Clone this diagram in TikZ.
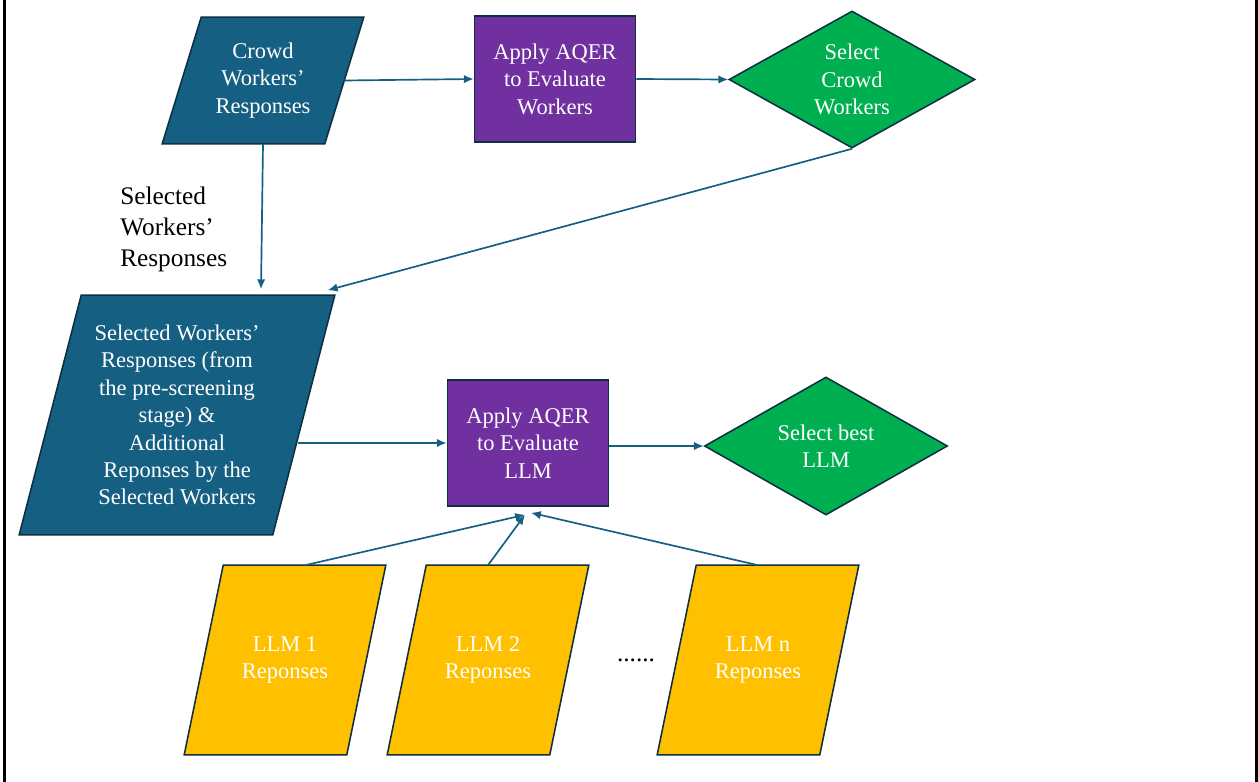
\documentclass[tikz,border=0pt]{standalone}
\usepackage{fontspec}
\setmainfont{Liberation Serif}
\usepackage{tikz}
\usetikzlibrary{arrows.meta}
\usetikzlibrary{shapes.geometric, positioning, calc, backgrounds}
\usepackage{xcolor}

\definecolor{crowdblue}{HTML}{156082}
\definecolor{aqerpurple}{HTML}{7030A0}
\definecolor{pickgreen}{HTML}{00B050}
\definecolor{llmgold}{HTML}{FFC000}
\definecolor{shapeedge}{HTML}{0C3041}

\tikzset{
  shapebox/.style={draw=shapeedge, line width=1.1pt, text=white, align=center,
    inner sep=0pt, font=\fontsize{16}{19.5}\selectfont},
  slanted/.style={shapebox, draw=none, rectangle},
  aqerbox/.style={shapebox, rectangle, fill=aqerpurple, minimum width=4.025cm, minimum height=3.15cm},
  pickbox/.style={shapebox, diamond, aspect=1.8, fill=pickgreen},
  flow/.style={draw=crowdblue, line width=1.2pt, -{Latex[length=7pt,width=6pt]}},
}

% parallelogram round a node: #1 node, #2 horizontal shift of the top edge, #3 fill
\newcommand{\slantshape}[3]{%
  \filldraw[fill=#3, draw=shapeedge, line width=1.1pt]
    ($(#1.south west)+(-#2/2,0)$) -- ($(#1.south east)+(-#2/2,0)$) --
    ($(#1.north east)+(#2/2,0)$) -- ($(#1.north west)+(#2/2,0)$) -- cycle;}

\begin{document}
\begin{tikzpicture}[x=0.025cm, y=-0.025cm]
      \useasboundingbox (0,0) rectangle (1258,782);
      \draw[line width=2pt] (4.5,0) -- (4.5,782);
      \draw[line width=1.6pt] (1256.5,0) -- (1256.5,782);

      \node[slanted, minimum width=4.025cm, minimum height=3.125cm] (crowd) at (263,80.5) {Crowd\\Workers'\\Responses};
      \node[aqerbox] (aqer1) at (555,79) {Apply AQER\\to Evaluate\\Workers};
      \node[pickbox, minimum width=6.15cm, minimum height=3.425cm] (pickcrowd) at (852,79.5) {Select\\Crowd\\Workers};

      \node[anchor=west, align=left, inner sep=0pt, font=\fontsize{18}{22}\selectfont] (sellabel) at (120,229) {Selected\\Workers'\\Responses};

      \node[slanted, minimum width=6.3cm, minimum height=5.95cm] (pooled) at (177,415)
            {Selected Workers'\\Responses (from\\the pre-screening\\stage) \&\\Additional\\Reponses by the\\Selected Workers};
      \node[aqerbox] (aqer2) at (528,443) {Apply AQER\\to Evaluate\\LLM};
      \node[pickbox, minimum width=6.075cm, minimum height=3.45cm] (pickllm) at (826,446) {Select best\\LLM};

      \node[slanted, minimum width=4.025cm, minimum height=4.7cm] (llm1) at (285,660) {LLM 1\\Reponses};
      \node[slanted, minimum width=4.025cm, minimum height=4.7cm] (llm2) at (488,660) {LLM 2\\Reponses};
      \node[slanted, minimum width=4.025cm, minimum height=4.7cm] (llmn) at (758,660) {LLM n\\Reponses};
      \node[font=\fontsize{18}{22}\selectfont, inner sep=0pt] (more) at (636,660) {......};

      \begin{scope}[on background layer]
        \slantshape{crowd}{39}{crowdblue}
        \slantshape{pooled}{62}{crowdblue}
        \slantshape{llm1}{39}{llmgold}
        \slantshape{llm2}{39}{llmgold}
        \slantshape{llmn}{39}{llmgold}
      \end{scope}

      \draw[flow] (crowd.east) -- (aqer1.west);
      \draw[flow] (aqer1.east) -- (pickcrowd.west);
      \draw[flow] (pickcrowd.south) -- ($(pooled.north east)+(24,-5)$);
      \draw[flow] (crowd.south) -- ($(crowd.center |- pooled.north)+(-2,-6)$);

      \draw[flow] ($(aqer2.west -| pooled.east)+(-6,0)$) -- (aqer2.west);
      \draw[flow] (aqer2.east |- pickllm.west) -- (pickllm.west);

      \coordinate (intake) at ($(aqer2.south)+(-3,8)$);
      \draw[flow] ($(llm1.north)+(20,0)$) -- (intake);
      \draw[flow] (llm2.north) -- (intake);
      \draw[flow] (llmn.north) -- ($(aqer2.south)+(3,6)$);

    \end{tikzpicture}
\end{document}
